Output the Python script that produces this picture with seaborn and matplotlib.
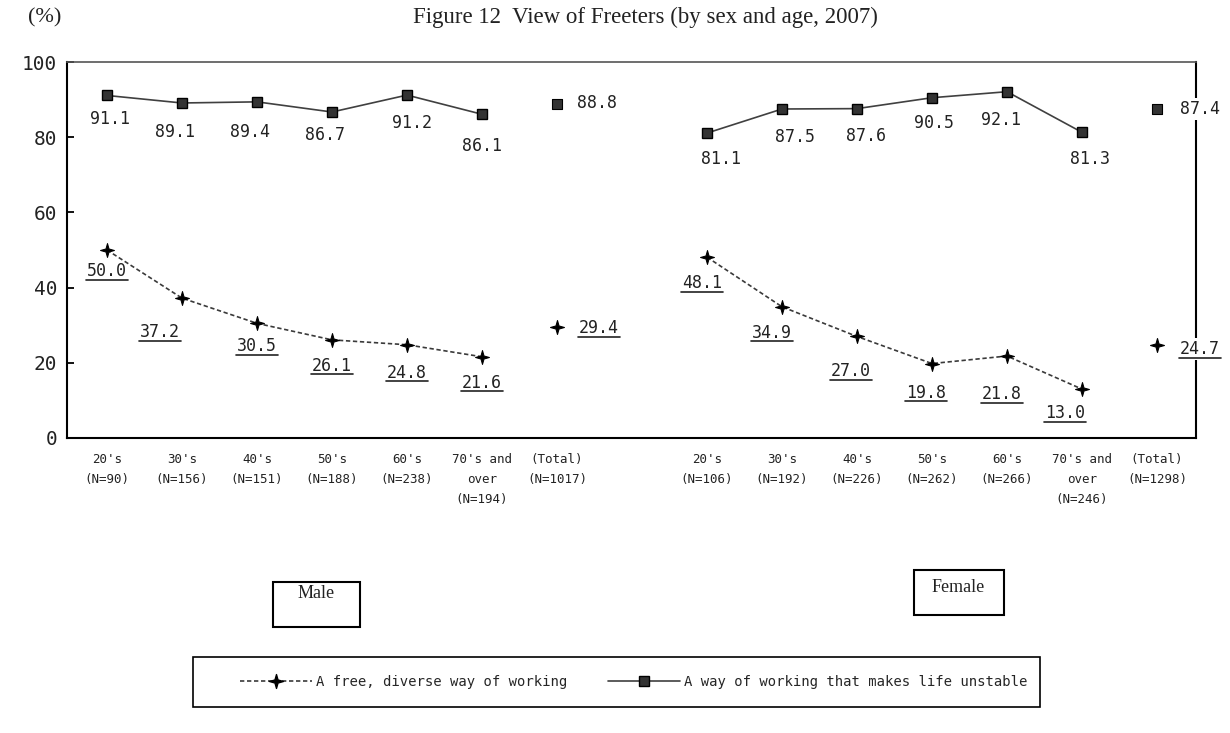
import numpy as np
import pandas as pd
import matplotlib
matplotlib.use("Agg")
import matplotlib.pyplot as plt
import seaborn as sns
from matplotlib.path import Path
from matplotlib.lines import Line2D
from matplotlib.patches import Rectangle

# ---------------- data ----------------
title = "Figure 12  View of Freeters (by sex and age, 2007)"
male_cats = ["20's\n(N=90)", "30's\n(N=156)", "40's\n(N=151)", "50's\n(N=188)",
             "60's\n(N=238)", "70's and\nover\n(N=194)", "(Total)\n(N=1017)"]
female_cats = ["20's\n(N=106)", "30's\n(N=192)", "40's\n(N=226)", "50's\n(N=262)",
               "60's\n(N=266)", "70's and\nover\n(N=246)", "(Total)\n(N=1298)"]

male_free = [50.0, 37.2, 30.5, 26.1, 24.8, 21.6]
male_free_total = 29.4
male_unstable = [91.1, 89.1, 89.4, 86.7, 91.2, 86.1]
male_unstable_total = 88.8

female_free = [48.1, 34.9, 27.0, 19.8, 21.8, 13.0]
female_free_total = 24.7
female_unstable = [81.1, 87.5, 87.6, 90.5, 92.1, 81.3]
female_unstable_total = 87.4

series_names = ["A free, diverse way of working",
                "A way of working that makes life unstable"]
yticks = [0, 20, 40, 60, 80, 100]

# ---------------- label offsets (pixels: dx right, dy down) ----------------
off_male_free = [(0, 21), (-22, 34), (0, 23), (0, 26), (0, 28), (0, 26), (42, 1)]
off_male_unst = [(3, 24), (-7, 29), (-7, 30), (-7, 23), (5, 28), (0, 32), (40, -1)]
off_fem_free = [(-5, 26), (-10, 26), (-6, 35), (-6, 29), (-5, 38), (-17, 24), (43, 4)]
off_fem_unst = [(14, 26), (13, 28), (9, 27), (2, 25), (-6, 28), (8, 27), (43, 0)]

# ---------------- style ----------------
sns.set_theme(style="white")
plt.rcParams['font.family'] = ['DejaVu Sans']
MONO = 'DejaVu Sans Mono'
SERIF = 'Liberation Serif'

W, H = 1230, 733
fig = plt.figure(figsize=(W / 100, H / 100), dpi=100)
fig.patch.set_facecolor('white')
ax = fig.add_axes([67 / W, 1 - 438 / H, (1196 - 67) / W, (438 - 62) / H])
ax.set_facecolor('white')

star = Path([(0, 1), (0.22, 0.22), (1, 0), (0.22, -0.22), (0, -1),
             (-0.22, -0.22), (-1, 0), (-0.22, 0.22), (0, 1)],
            [Path.MOVETO] + [Path.LINETO] * 7 + [Path.CLOSEPOLY])

free_kw = dict(color='#3a3a3a', lw=1.2, marker=star, markersize=10,
               markerfacecolor='black', markeredgecolor='black', linestyle='--')
unst_kw = dict(color='#404040', lw=1.2, marker='s', markersize=7.5,
               markerfacecolor='#333333', markeredgecolor='black', markeredgewidth=1.0,
               linestyle='-')

male_pos = np.arange(len(male_free))
female_pos = np.arange(len(female_free)) + len(male_cats) + 1
male_tot_pos = len(male_free)
female_tot_pos = female_pos[-1] + 1


def draw_line(pos, vals, kw):
    df = pd.DataFrame({'pos': pos, 'value': vals})
    sns.lineplot(data=df, x='pos', y='value', ax=ax, legend=False, **kw)
    ln = ax.lines[-1]
    if kw['linestyle'] == '--':
        ln.set_dashes([2.6, 1.6])
    ln.set_zorder(3)


def draw_total(pos, val, marker, size, color):
    df = pd.DataFrame({'pos': [pos], 'value': [val]})
    sns.scatterplot(data=df, x='pos', y='value', ax=ax, marker=marker, s=size,
                    color=color, edgecolor='black', linewidth=0.8, legend=False, zorder=4)


draw_line(male_pos, male_unstable, unst_kw)
draw_line(female_pos, female_unstable, unst_kw)
draw_line(male_pos, male_free, free_kw)
draw_line(female_pos, female_free, free_kw)
draw_total(male_tot_pos, male_unstable_total, 's', 56, '#333333')
draw_total(female_tot_pos, female_unstable_total, 's', 56, '#333333')
draw_total(male_tot_pos, male_free_total, star, 100, 'black')
draw_total(female_tot_pos, female_free_total, star, 100, 'black')

# ---------------- axes ----------------
ax.set_xlim(-0.533, 14.52)
ax.set_ylim(0, 100)
ax.set_xticks(list(male_pos) + [male_tot_pos] + list(female_pos) + [female_tot_pos])
ax.set_xticklabels(male_cats + female_cats, fontsize=9, family=MONO,
                   linespacing=1.7, color='#222222')
ax.set_yticks(yticks)
ax.set_yticklabels([str(v) for v in yticks], fontsize=14, family=MONO, color='#222222')
ax.tick_params(axis='x', length=0, pad=11)
ax.tick_params(axis='y', direction='in', length=5, width=1.3, color='black',
               pad=7, left=True, right=False)
ax.set_xlabel('')
ax.set_ylabel('')
ax.grid(False)
for side in ['left', 'bottom', 'right']:
    ax.spines[side].set_color('black')
    ax.spines[side].set_linewidth(1.5)
ax.spines['top'].set_color('#555555')
ax.spines['top'].set_linewidth(1.2)

# ---------------- data labels ----------------
under_texts = []


def put_labels(pos_list, vals, offsets, underline):
    for p, v, (dx, dy) in zip(pos_list, vals, offsets):
        is_total = p in (male_tot_pos, female_tot_pos)
        t = ax.annotate(f"{v:.1f}", (p, v), xytext=(dx * 0.72, -dy * 0.72),
                        textcoords='offset points', ha='center', va='center',
                        fontsize=12, family=MONO, color='#222222', zorder=6,
                        annotation_clip=False)
        if is_total:
            t.set_bbox(dict(facecolor='white', edgecolor='none', pad=1.5))
        if underline:
            under_texts.append(t)


put_labels(list(male_pos) + [male_tot_pos], male_free + [male_free_total], off_male_free, True)
put_labels(list(male_pos) + [male_tot_pos], male_unstable + [male_unstable_total], off_male_unst, False)
put_labels(list(female_pos) + [female_tot_pos], female_free + [female_free_total], off_fem_free, True)
put_labels(list(female_pos) + [female_tot_pos], female_unstable + [female_unstable_total], off_fem_unst, False)

# ---------------- titles & boxes ----------------
fig.text(645 / W, 1 - 17 / H, title, ha='center', va='center', fontsize=16.5,
         family=SERIF, color='#222222')
fig.text(45 / W, 1 - 18 / H, "(%)", ha='center', va='center', fontsize=16,
         family=SERIF, color='#222222')


def fig_box(x0, y0, x1, y1, lw=1.5):
    fig.add_artist(Rectangle((x0 / W, 1 - y1 / H), (x1 - x0) / W, (y1 - y0) / H,
                             transform=fig.transFigure, facecolor='white',
                             edgecolor='black', linewidth=lw, zorder=1))


fig_box(273, 582, 360, 627)
fig.text(316 / W, 1 - 594 / H, "Male", ha='center', va='center', fontsize=13,
         family=SERIF, color='#222222', zorder=2)
fig_box(914, 570, 1004, 615)
fig.text(958 / W, 1 - 587 / H, "Female", ha='center', va='center', fontsize=13,
         family=SERIF, color='#222222', zorder=2)

# legend frame
fig_box(193, 657, 1040, 707, lw=1.2)
handles = [Line2D([], [], **{k: v for k, v in free_kw.items()}),
           Line2D([], [], **{k: v for k, v in unst_kw.items()})]
handles[0].set_dashes([2.6, 1.6])
leg = fig.legend(handles, series_names, loc='center left',
                 bbox_to_anchor=(240 / W, 1 - 682 / H), ncol=2, frameon=False,
                 prop={'family': MONO, 'size': 10}, handlelength=5.2,
                 handletextpad=0.3, columnspacing=2.9, borderpad=0, borderaxespad=0)
leg.set_zorder(3)

# ---------------- underlines ----------------
fig.canvas.draw()
renderer = fig.canvas.get_renderer()
for t in under_texts:
    bb = t.get_window_extent(renderer)
    y = bb.y0 + 0.5
    fig.add_artist(Line2D([(bb.x0 - 1) / W, (bb.x1 + 1) / W], [y / H, y / H],
                          transform=fig.transFigure, color='#222222', lw=1.2, zorder=7))

fig.savefig('out.png', dpi=100, facecolor='white')
